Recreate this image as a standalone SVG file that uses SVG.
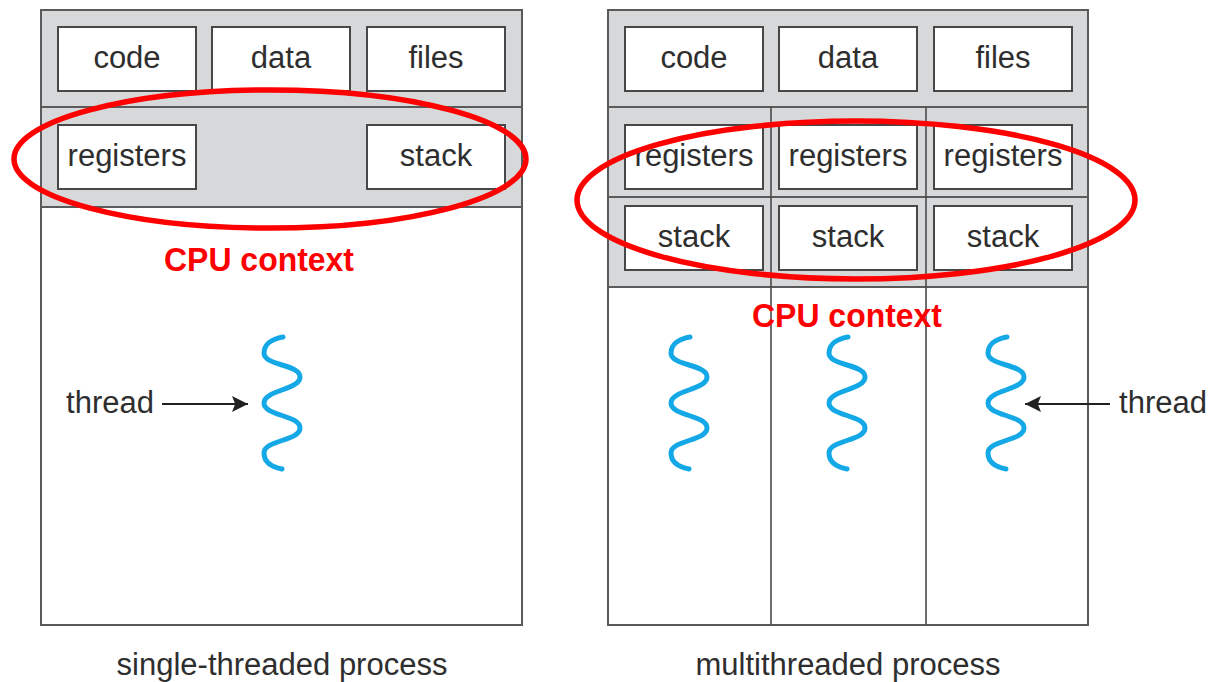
<svg xmlns="http://www.w3.org/2000/svg" xmlns:xlink="http://www.w3.org/1999/xlink" width="1225" height="682" viewBox="0 0 1225 682">
  <style>
    .proc { fill: #ffffff; stroke: #5a5a5a; stroke-width: 2; }
    .band { fill: #d7d8d9; stroke: #5a5a5a; stroke-width: 2; }
    .cell { fill: #ffffff; stroke: #474747; stroke-width: 2; }
    .div { stroke: #4a4a4a; stroke-width: 1.6; fill: none; }
    .lbl { font-family: "Liberation Sans", Arial, sans-serif; font-size: 31px; fill: #2e2e2e; text-anchor: middle; }
    .cap { font-family: "Liberation Sans", Arial, sans-serif; font-size: 31px; fill: #2e2e2e; text-anchor: middle; }
    .ctx { fill: none; stroke: #ff0000; stroke-width: 5.5; }
    .ctxt { font-family: "Liberation Sans", Arial, sans-serif; font-weight: bold; font-size: 34px; fill: #ff0000; text-anchor: middle; }
    .thr { fill: none; stroke: #14a9e6; stroke-width: 5; stroke-linecap: round; }
    .arr { stroke: #222222; stroke-width: 2; fill: none; }
  </style>
  <defs>
    <!-- wavy thread glyph, centred on x=0, starting at y=0 -->
    <path id="thread" class="thr" d="M 1 0 C -11 2 -18 8 -18 16 C -18 29 18 27 18 40 C 18 53 -18 53 -18 66 C -18 79 18 78 18 91 C 18 104 -18 103 -18 116 C -18 125 -10 130 0 132"/>
    <marker id="head" viewBox="0 0 10 10" refX="10" refY="5" markerWidth="9" markerHeight="8" markerUnits="strokeWidth" orient="auto">
      <path d="M0,0 L10,5 L0,10 L2,5 z" fill="#222222"/>
    </marker>
  </defs>

  <!-- single-threaded process -->
  <g id="single-process">
    <rect class="proc" x="41" y="10" width="481" height="615"/>
    <rect class="band" x="41" y="10" width="481" height="97"/>
    <rect class="band" x="41" y="107" width="481" height="100"/>
  </g>
  <g id="s-code"><rect class="cell" x="58" y="27" width="138" height="64"/><text class="lbl" x="127" y="68">code</text></g>
  <g id="s-data"><rect class="cell" x="212" y="27" width="138" height="64"/><text class="lbl" x="281" y="68">data</text></g>
  <g id="s-files"><rect class="cell" x="367" y="27" width="138" height="64"/><text class="lbl" x="436" y="68">files</text></g>
  <g id="s-registers"><rect class="cell" x="58" y="125" width="138" height="64"/><text class="lbl" x="127" y="166">registers</text></g>
  <g id="s-stack"><rect class="cell" x="367" y="125" width="138" height="64"/><text class="lbl" x="436" y="166">stack</text></g>
  <g id="s-thread"><use xlink:href="#thread" href="#thread" x="282" y="337"/></g>
  <g id="s-thread-label"><text class="lbl" x="110" y="413">thread</text></g>
  <text class="cap" x="282" y="675">single-threaded process</text>

  <!-- multithreaded process -->
  <g id="multi-process">
    <rect class="proc" x="608" y="10" width="480" height="615"/>
    <rect class="band" x="608" y="10" width="480" height="97"/>
    <rect class="band" x="608" y="107" width="480" height="90"/>
    <rect class="band" x="608" y="197" width="480" height="90"/>
    <line class="div" x1="771" y1="107" x2="771" y2="625"/>
    <line class="div" x1="926" y1="107" x2="926" y2="625"/>
  </g>
  <g id="m-code"><rect class="cell" x="625" y="27" width="138" height="64"/><text class="lbl" x="694" y="68">code</text></g>
  <g id="m-data"><rect class="cell" x="779" y="27" width="138" height="64"/><text class="lbl" x="848" y="68">data</text></g>
  <g id="m-files"><rect class="cell" x="934" y="27" width="138" height="64"/><text class="lbl" x="1003" y="68">files</text></g>
  <g id="m-registers-1"><rect class="cell" x="625" y="125" width="138" height="64"/><text class="lbl" x="694" y="166">registers</text></g>
  <g id="m-registers-2"><rect class="cell" x="779" y="125" width="138" height="64"/><text class="lbl" x="848" y="166">registers</text></g>
  <g id="m-registers-3"><rect class="cell" x="934" y="125" width="138" height="64"/><text class="lbl" x="1003" y="166">registers</text></g>
  <g id="m-stack-1"><rect class="cell" x="625" y="206" width="138" height="64"/><text class="lbl" x="694" y="247">stack</text></g>
  <g id="m-stack-2"><rect class="cell" x="779" y="206" width="138" height="64"/><text class="lbl" x="848" y="247">stack</text></g>
  <g id="m-stack-3"><rect class="cell" x="934" y="206" width="138" height="64"/><text class="lbl" x="1003" y="247">stack</text></g>
  <g id="m-thread-1"><use xlink:href="#thread" href="#thread" x="689" y="337"/></g>
  <g id="m-thread-2"><use xlink:href="#thread" href="#thread" x="847" y="337"/></g>
  <g id="m-thread-3"><use xlink:href="#thread" href="#thread" x="1006" y="337"/></g>
  <g id="m-thread-label"><text class="lbl" x="1163" y="413">thread</text></g>
  <text class="cap" x="848" y="675">multithreaded process</text>

  <!-- CPU context highlights -->
  <g id="s-context">
    <ellipse class="ctx" cx="270" cy="159" rx="256" ry="69"/>
    <text class="ctxt" x="259" y="271" textLength="190" lengthAdjust="spacingAndGlyphs">CPU context</text>
  </g>
  <g id="m-context">
    <ellipse class="ctx" cx="856" cy="200" rx="279" ry="79"/>
    <text class="ctxt" x="847" y="327" textLength="190" lengthAdjust="spacingAndGlyphs">CPU context</text>
  </g>

  <!-- connectors -->
  <g id="connectors">
    <line class="arr" x1="162" y1="404" x2="248" y2="404" marker-end="url(#head)"/>
    <line class="arr" x1="1110" y1="404" x2="1025" y2="404" marker-end="url(#head)"/>
  </g>
</svg>
